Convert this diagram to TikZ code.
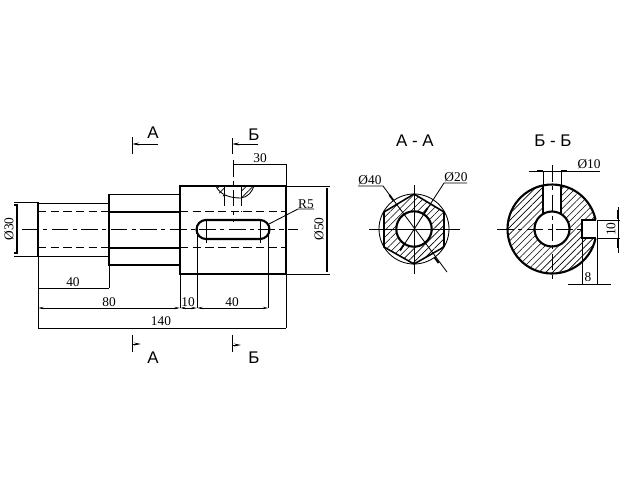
\documentclass[tikz,border=0pt]{standalone}
\usepackage{fontspec}
\setmainfont{Liberation Serif}
\newfontfamily\headfont{Liberation Sans}
\usetikzlibrary{arrows.meta,patterns.meta}
\tikzset{
  contour/.style={line width=1.5pt},
  thinline/.style={line width=0.6pt},
  hidden/.style={line width=0.6pt, dash pattern=on 6pt off 3pt},
  axisline/.style={line width=0.6pt, dash pattern=on 12pt off 3pt on 3pt off 3pt},
  dimline/.style={line width=0.6pt, {Stealth[length=4pt,width=1.6pt]}-{Stealth[length=4pt,width=1.6pt]}},
  heavydim/.style={line width=1.1pt},
  tickmark/.style={line width=1.3pt},
  cutmark/.style={line width=0.6pt},
  hatching/.style={pattern={Lines[angle=45,distance=3.4pt,line width=0.45pt]}},
  dimtext/.style={font=\fontsize{9.5}{10}\selectfont, inner sep=0pt},
  headtext/.style={font=\headfont\fontsize{12}{13}\selectfont, inner sep=0pt}
}
\begin{document}
\begin{tikzpicture}[x=0.025cm,y=-0.025cm]
  \useasboundingbox (0,0) rectangle (640,480);
  \fill[white] (0,0) rectangle (640,480);

  % Top hole, hatched parts
  \fill[hatching] (216,186) .. controls (218,193) and (221,196) .. (224,197) -- (224,186) -- cycle;
  \fill[hatching] (241,198) .. controls (248,197) and (252,192) .. (254,186) -- (241,186) -- cycle;
  \draw[thinline] (216,186) .. controls (220,195) and (230,198) .. (241,198) .. controls (248,197) and (252,192) .. (254,186);
  \draw[thinline] (224,186) -- (224,198);
  \draw[thinline] (241,186) -- (241,198);
  \draw[hidden] (224,198) -- (224,211);
  \draw[hidden] (241,198) -- (241,211);

  % Shaft
  \draw[contour] (38,202) -- (38,256);
  \draw[thinline] (38,203) -- (109,203);
  \draw[thinline] (38,256) -- (109,256);
  \draw[hidden] (38,211) -- (109,211);
  \draw[hidden] (38,247) -- (109,247);

  % Hexagon part
  \draw[contour] (109,194) -- (109,265) -- (180,265);
  \draw[thinline] (109,194) -- (180,194);
  \draw[contour] (109,212) -- (180,212);
  \draw[contour] (109,248) -- (180,248);

  % Block with slot
  \draw[contour] (180,186) rectangle (286,274);
  \draw[hidden] (180,211) -- (286,211);
  \draw[hidden] (180,247) -- (286,247);
  \draw[contour] (206,220) -- (260,220) arc[start angle=-90,end angle=90,radius=9.5] -- (206,239) arc[start angle=90,end angle=270,radius=9.5] -- cycle;

  % Axes of the side view
  \draw[axisline] (22,229) -- (298,229);
  \draw[axisline] (233,160) -- (233,222);
  \draw[thinline] (206,220) -- (206,243);
  \draw[thinline] (260,220) -- (260,243);

  % Extension lines
  \draw[thinline] (14,202) -- (38,202);
  \draw[thinline] (14,256) -- (38,256);
  \draw[thinline] (38,256) -- (38,328);
  \draw[thinline] (109,265) -- (109,288);
  \draw[thinline] (180,265) -- (180,308);
  \draw[thinline] (197,229) -- (197,308);
  \draw[thinline] (268.5,229) -- (268.5,308);
  \draw[thinline] (286,274) -- (286,328);
  \draw[thinline] (233,164) -- (286,164) -- (286,186);
  \draw[thinline] (286,186) -- (330,186);
  \draw[thinline] (286,274) -- (330,274);

  % Dimensions of the side view
  \draw[heavydim] (14,205) -- (17,205) -- (17,253) -- (14,253);
  \draw[thinline] (38,288) -- (109,288);
  \draw[dimline] (38,308) -- (180,308);
  \draw[dimline] (180,308) -- (197,308);
  \draw[dimline] (197,308) -- (268.5,308);
  \draw[thinline] (38,328) -- (286,328);
  \draw[heavydim] (327,188) -- (327,272);
  \node[dimtext, rotate=90] (dia30) at (9,229) {Ø30};
  \node[dimtext] (len40) at (73,282) {40};
  \node[dimtext] (len80) at (109,302) {80};
  \node[dimtext] (len140) at (161,321) {140};
  \node[dimtext] (len10) at (188,302) {10};
  \node[dimtext] (slot40) at (232,302) {40};
  \node[dimtext] (pos30) at (260,158) {30};
  \node[dimtext, rotate=90] (dia50) at (319,229) {Ø50};
  \node[dimtext] (rad5) at (306,204) {R5};
  \draw[thinline] (267,225) -- (298,209) -- (314,209);

  % Cut marks
  \draw[cutmark, -{Stealth[length=5pt,width=2pt]}] (158,144) -- (132,144);
  \draw[cutmark] (132,137) -- (132,154);
  \draw[cutmark, {Stealth[length=5pt,width=2pt]}-] (141,344) -- (132,344);
  \draw[cutmark] (132,335) -- (132,352);
  \draw[cutmark, -{Stealth[length=5pt,width=2pt]}] (258,144) -- (232,144);
  \draw[cutmark] (232,138) -- (232,154);
  \draw[cutmark, {Stealth[length=5pt,width=2pt]}-] (241,345) -- (232,345);
  \draw[cutmark] (232,335) -- (232,352);
  \node[headtext] (cutAtop) at (153,133) {A};
  \node[headtext] (cutAbot) at (153,358) {A};
  \node[headtext] (cutBtop) at (254,135) {Б};
  \node[headtext] (cutBbot) at (254,358) {Б};

  % Section A-A
  \node[headtext] (headA) at (415,141) {A - A};
  \fill[hatching, even odd rule] (414,194) -- (444,212) -- (444,247) -- (414,264) -- (384,247) -- (384,212) -- cycle (414,229) circle (17.7);
  \draw[thinline] (414,229) circle (35);
  \draw[line width=1.1pt] (414,194) -- (444,212);
  \draw[contour] (444,212) -- (444,247);
  \draw[line width=1.1pt] (444,247) -- (414,264) -- (384,247) -- (384,212) -- (414,194);
  \draw[contour] (414,229) circle (17.7);
  \draw[thinline] (414,185) -- (414,274);
  \draw[thinline] (369,229) -- (460,229);
  \draw[thinline] (358,186) -- (383,186) -- (447,272);
  \draw[thinline] (467,183) -- (444,183) -- (400,251);
  \draw[tickmark] (423.8,213.9) -- (427.6,208);
  \draw[tickmark] (404.2,244.1) -- (400.3,250);
  \draw[tickmark] (434.5,257.4) -- (438.6,263);
  \draw[tickmark] (393.5,200.6) -- (389.4,195);
  \node[dimtext] (dia40) at (370,180) {Ø40};
  \node[dimtext] (dia20) at (456,177) {Ø20};

  % Section B-B
  \node[headtext] (headB) at (553,141) {Б - Б};
  \fill[hatching, even odd rule] (552,229) circle (44.5) (552,229) circle (17.5);
  \fill[white] (543,184) rectangle (561,214);
  \fill[white] (582,220) rectangle (598,238);
  \draw[contour] (595.5,238.5) arc[start angle=12.3,end angle=347.7,radius=44.5];
  \draw[contour] (552,229) circle (17.5);
  \draw[contour] (543,186) -- (543,214);
  \draw[line width=1.1pt] (561,186) -- (561,214);
  \draw[contour] (596,220) -- (582,220) -- (582,238) -- (596,238);
  \draw[axisline] (552,165) -- (552,283);
  \draw[axisline] (497,229) -- (582,229);

  % Dimensions of the sections
  \draw[thinline] (543,171) -- (543,186);
  \draw[thinline] (561,171) -- (561,186);
  \draw[thinline] (529,171) -- (600,171);
  \draw[tickmark] (537,171) -- (543,171);
  \draw[tickmark] (561,171) -- (567,171);
  \draw[thinline] (597,220) -- (620,220);
  \draw[thinline] (597,238) -- (620,238);
  \draw[thinline] (618,207) -- (618,253);
  \draw[tickmark] (618,210) -- (618,219);
  \draw[tickmark] (618,239) -- (618,248);
  \draw[thinline] (582,238) -- (582,284);
  \draw[thinline] (597,220) -- (597,284);
  \draw[thinline] (568,284) -- (611,284);
  \node[dimtext] (dia10) at (589,164) {Ø10};
  \node[dimtext, rotate=90] (key10) at (611,229) {10};
  \node[dimtext] (key8) at (588,277) {8};
\end{tikzpicture}
\end{document}
